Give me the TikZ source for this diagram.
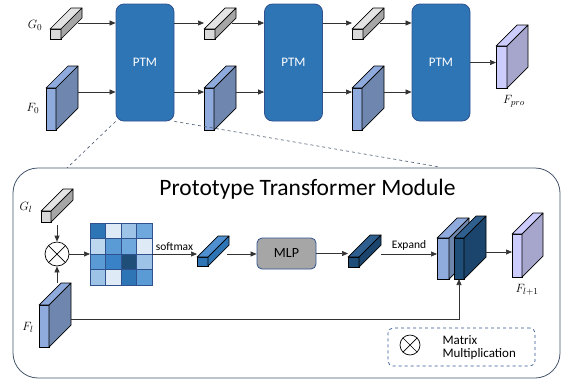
\documentclass[tikz,border=0pt]{standalone}
\usepackage{fontspec}
\setmainfont{Carlito}
\usetikzlibrary{arrows.meta,calc}

\definecolor{ptmblue}{HTML}{2E75B6}
\definecolor{ptmedge}{HTML}{2F528F}
\definecolor{frame}{HTML}{44546A}
\definecolor{grayfront}{HTML}{D9D9D9}
\definecolor{grayside}{HTML}{A6A6A6}
\definecolor{graytop}{HTML}{E4E4E4}
\definecolor{featfront}{HTML}{8FAADC}
\definecolor{featside}{HTML}{6F86AE}
\definecolor{lavfront}{HTML}{CCCCFF}
\definecolor{lavside}{HTML}{A6A6CC}
\definecolor{navyfront}{HTML}{1F4E79}
\definecolor{navytop}{HTML}{2E5F8E}
\definecolor{navyside}{HTML}{1B456C}
\definecolor{smtop}{HTML}{4F8FD0}
\definecolor{mlpgray}{HTML}{A6A6A6}
\definecolor{mA}{HTML}{2E75B6}
\definecolor{mB}{HTML}{DEEBF7}
\definecolor{mC}{HTML}{9DC3E6}
\definecolor{mD}{HTML}{6FA8DC}
\definecolor{mE}{HTML}{BDD7EE}
\definecolor{mF}{HTML}{5B9BD5}
\definecolor{mG}{HTML}{1F4E79}
\definecolor{mH}{HTML}{3A82C8}

% name, x, y, width, height, depth, front, side, top
\newcommand{\cuboid}[9]{%
  \node[draw, line width=0.7pt, fill=#7, anchor=north west, inner sep=0pt, outer sep=0pt,
        minimum width=#4pt, minimum height=#5pt] (#1) at (#2,#3) {};
  \draw[line width=0.7pt, line join=round, fill=#9] (#1.north west) -- ++(#6,-#6) -- ++(#4,0) -- (#1.north east) -- cycle;
  \draw[line width=0.7pt, line join=round, fill=#8] (#1.north east) -- ++(#6,-#6) coordinate (#1b) -- ++(0,#5) -- (#1.south east) -- cycle;
}

\begin{document}
\begin{tikzpicture}[x=1pt, y=-1pt,
    arr/.style={-{Triangle[length=6pt,width=5pt]}, draw=black!80, line width=0.7pt},
    ptm/.style={draw=ptmedge, fill=ptmblue, line width=0.8pt, rounded corners=8pt,
        minimum width=58pt, minimum height=117pt, text=white, font=\fontsize{13}{13}\selectfont},
    lbl/.style={font=\fontsize{13}{13}\selectfont},
    small/.style={font=\fontsize{11.5}{12}\selectfont},
    otimes/.style={circle, draw, line width=0.7pt, fill=white, inner sep=0pt,
        path picture={\draw[line width=0.7pt] (path picture bounding box.north west) -- (path picture bounding box.south east)
            (path picture bounding box.north east) -- (path picture bounding box.south west);}},
    zoomline/.style={draw=frame, dashed, line width=0.6pt}]
    \useasboundingbox (0,0) rectangle (570,381);

    % top row
    \coordinate (grow) at (0,23);
    \coordinate (frow) at (0,92);
    \node[ptm] (ptm1) at (145,62.5) {PTM};
    \node[ptm] (ptm2) at (293.5,62.5) {PTM};
    \node[ptm] (ptm3) at (441,62.5) {PTM};

    \cuboid{g0}{50}{29}{11}{10}{21}{grayfront}{grayside}{graytop}
    \cuboid{g1}{204}{29}{11}{10}{21}{grayfront}{grayside}{graytop}
    \cuboid{g2}{352}{29}{11}{10}{21}{grayfront}{grayside}{graytop}
    \cuboid{f0}{46}{88}{10}{42}{22}{featfront}{featside}{featfront}
    \cuboid{f1}{204}{88}{10}{42}{22}{featfront}{featside}{featfront}
    \cuboid{f2}{352}{88}{10}{42}{22}{featfront}{featside}{featfront}
    \cuboid{fpro}{496}{46}{11}{42}{21}{lavfront}{lavside}{lavfront}

    \node[lbl] (g0l) at (35,25) {$G_0$};
    \node[lbl] (f0l) at (33,108) {$F_0$};
    \node[lbl] (fprol) at (514,101) {$F_{pro}$};

    \draw[arr] (g0b |- grow) ++(-4,0) -- (ptm1.west |- grow);
    \draw[arr] (ptm1.east |- grow) -- (g1.west |- grow);
    \draw[arr] (g1b |- grow) ++(-4,0) -- (ptm2.west |- grow);
    \draw[arr] (ptm2.east |- grow) -- (g2.west |- grow);
    \draw[arr] (g2b |- grow) ++(-4,0) -- (ptm3.west |- grow);
    \draw[arr] (f0b |- frow) -- (ptm1.west |- frow);
    \draw[arr] (ptm1.east |- frow) -- (f1.west |- frow);
    \draw[arr] (f1b |- frow) -- (ptm2.west |- frow);
    \draw[arr] (ptm2.east |- frow) -- (f2.west |- frow);
    \draw[arr] (f2b |- frow) -- (ptm3.west |- frow);
    \draw[arr] (ptm3.east) -- (ptm3.east -| fpro.west);

    % module box
    \node[draw=frame, line width=0.8pt, rounded corners=25pt, minimum width=547pt, minimum height=210pt] (ptmbox) at (286.5,273) {};
    \coordinate (zl) at (67,168);
    \coordinate (zr) at (440,167);
    \draw[zoomline] (ptm1.south west) -- (zl);
    \draw[zoomline] (ptm1.south east) -- (zr);
    \node[font=\fontsize{23.5}{24}\selectfont] (title) at (307.5,189) {Prototype Transformer Module};

    \node[otimes, minimum size=24pt] (mul) at (57,254) {};
    \cuboid{gl}{41}{211}{10}{11}{22}{grayfront}{grayside}{graytop}
    \cuboid{fl}{39}{305}{10}{42}{22}{featfront}{featside}{featfront}
    \node[lbl] (gll) at (26,207) {$G_l$};
    \node[lbl] (fll) at (28,327) {$F_l$};

    \node[minimum size=62pt, inner sep=0pt, outer sep=0pt] (attn) at (121,254) {};
    \foreach \c [count=\i from 0] in {mA,mB,mC,mD, mE,mF,mD,mB, mF,mH,mG,mC, mC,mB,mA,mF} {
        \pgfmathsetmacro\col{mod(\i,4)}
        \pgfmathsetmacro\row{int(\i/4)}
        \draw[draw=ptmedge, line width=0.5pt, fill=\c] ($(attn.north west)+(\col*15.5,\row*15.5)$) rectangle ++(15.5,15.5);
    }

    \cuboid{sm}{197}{257}{11}{9}{21}{mA}{mA}{smtop}
    \node[draw=ptmedge, fill=mlpgray, line width=0.8pt, rounded corners=5pt, minimum width=59pt, minimum height=31pt,
        font=\fontsize{14}{14}\selectfont] (mlp) at (286.5,253.5) {MLP};
    \cuboid{dk}{348}{257}{11}{10}{22}{navyfront}{navyside}{navytop}
    \cuboid{c1}{437}{238}{12}{41}{20}{featfront}{featside}{featfront}
    \cuboid{c2}{454}{238}{10}{41}{22}{navyfront}{navyside}{navytop}
    \cuboid{fl1}{512}{234}{10}{43}{21}{lavfront}{lavside}{lavfront}
    \node[lbl] (fl1l) at (527,290) {$F_{l+1}$};

    \draw[arr] (gl.south -| mul) ++(0,3) -- (mul.north);
    \draw[arr] (mul.south |- flb) -- (mul.south);
    \draw[arr] (mul) -- (attn);
    \draw[arr] (attn.east) -- (attn.east -| sm.west) node[small, midway, above] {softmax};
    \draw[arr] (smb |- attn.east) ++(-2,0) -- (mlp.west |- attn.east);
    \draw[arr] (mlp.east) -- (mlp.east -| dk.west);
    \draw[arr] (dkb |- attn.east) -- (attn.east -| c1.west) node[small, midway, above] {Expand};
    \draw[arr] ($(c2b)+(0,36)$) coordinate (t2) -- (t2 -| fl1.west);
    \draw[arr] ($(flb)+(0,36)$) -| (c2.south);

    % legend
    \node[draw=ptmedge, dashed, line width=0.7pt, rounded corners=5pt, minimum width=147pt, minimum height=38pt] (key) at (461.5,347) {};
    \node[otimes, minimum size=20pt] (lmul) at (410,345) {};
    \node[anchor=west, align=left, font=\fontsize{13}{13}\selectfont] (keytxt) at (439,348) {Matrix\\Multiplication};
\end{tikzpicture}
\end{document}
